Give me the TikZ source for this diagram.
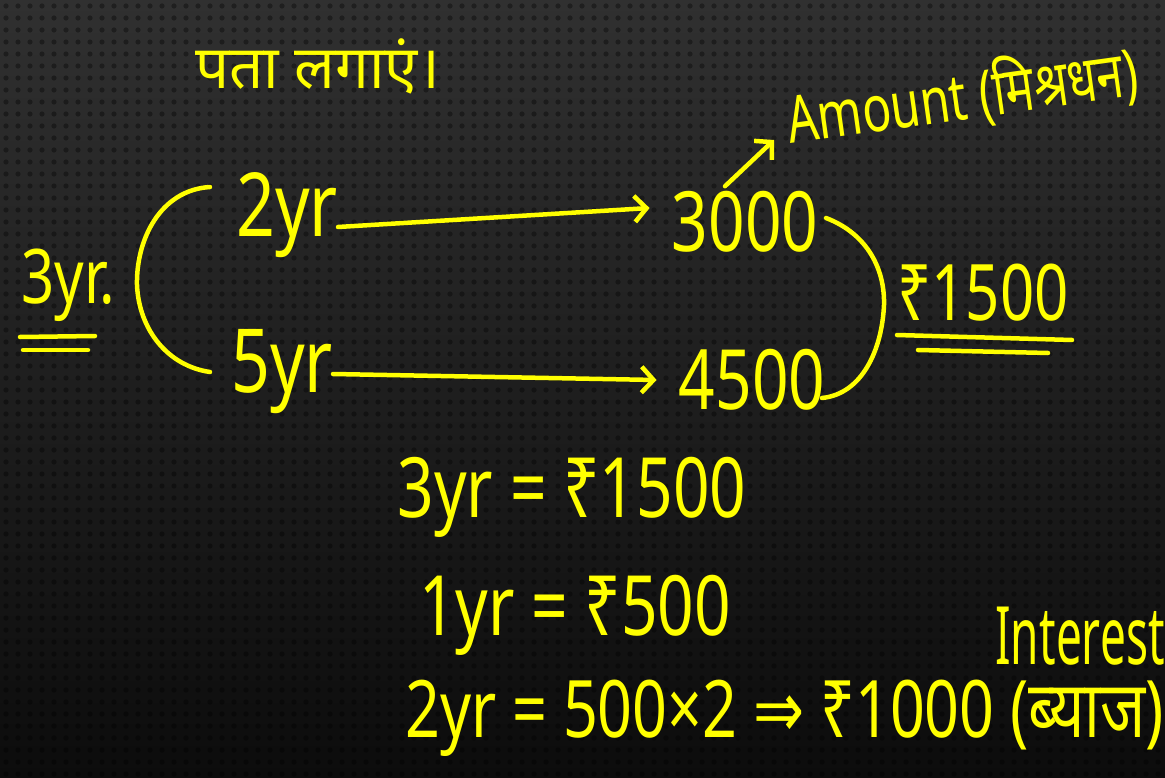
\documentclass[tikz,border=0pt]{standalone}
\usepackage{fontspec}
\usepackage{graphicx}
\setmainfont{Noto Sans}
\newfontfamily\deva[Script=Devanagari]{Noto Sans}
\newfontfamily\dejavu{DejaVu Sans}
\usetikzlibrary{arrows.meta}
\definecolor{ink}{HTML}{FFFF00}
\definecolor{bgtop}{HTML}{303030}
\definecolor{bgbot}{HTML}{0C0C0C}
\newcommand\hw[2][1.3]{\scalebox{1}[#1]{#2}}
\tikzset{
  txt/.style={text=ink, inner sep=0pt, anchor=center},
  pen/.style={draw=ink, line width=4.5pt, line cap=round, line join=round},
  arr/.style={pen, -{Straight Barb[length=12pt,width=26pt,line width=4.5pt]}},
  big/.style={font=\fontsize{64}{70}\selectfont},
}
\begin{document}
\begin{tikzpicture}[x=1pt,y=-1pt]
\useasboundingbox (0,0) rectangle (1165,778);
\clip (0,0) rectangle (1165,778);
\shade[top color=bgtop,bottom color=bgbot] (0,0) rectangle (1165,778);
\foreach \i in {0,...,97}{\foreach \j in {0,...,65}{
  \fill[black,opacity=0.35] (\i*12+6,\j*12+6) circle (2.6pt);}}

% title
\node[txt,font=\fontsize{60}{66}\selectfont\deva] (title) at (318,66) {पता लगाएं।};

% left part
\node[txt,font=\fontsize{58}{64}\selectfont] (y3) at (68,285) {\hw{3yr.}};
\draw[pen] (20,337) -- (95,336);
\draw[pen] (23,350) -- (88,350);

\node[txt,font=\fontsize{68}{74}\selectfont] (y2) at (287,215) {\hw{2yr}};
\node[txt,font=\fontsize{68}{74}\selectfont] (y5) at (282,372) {\hw{5yr}};

\coordinate (bt) at (210,187);
\coordinate (bb) at (210,372);
\draw[pen] (bt) .. controls (160,190) and (136,240) .. (137,285)
                .. controls (139,330) and (168,366) .. (bb);

% amounts
\node[txt,big] (a3000) at (745,222) {\hw{3000}};
\node[txt,big] (a4500) at (752,380) {\hw{4500}};

\draw[arr] ([yshift=-12pt]y2.east) -- ([shift={(-22,-14)}]a3000.west);
\draw[arr] ([yshift=-2pt]y5.east) -- ([shift={(-22,0)}]a4500.west);

% amount label
\node[txt,font=\fontsize{48}{54}\selectfont,anchor=base west,rotate=8] (amt) at (790,144) {\hw[1.35]{Amount (\deva मिश्रधन)}};
\draw[arr] ([shift={(-20,-5)}]a3000.north) -- ([shift={(-16,-4)}]amt.base west);

% right brace
\coordinate (rt) at (826,218);
\coordinate (rb) at (822,398);
\draw[pen] (rt) .. controls (868,234) and (885,270) .. (884,305)
                .. controls (882,350) and (862,394) .. (rb);

\node[txt,font=\fontsize{60}{66}\selectfont] (d1500) at (983,293) {\hw{₹1500}};
\draw[pen] (897,335) -- (1072,340);
\draw[pen] (918,350) -- (1048,353);

% calculations
\node[txt,big] (c1) at (572,497) {\hw{3yr = ₹1500}};
\node[txt,big] (c2) at (575,615) {\hw{1yr = ₹500}};
\node[txt,font=\fontsize{61}{68}\selectfont,anchor=west] (c3) at (405,718)
  {\hw{2yr = 500×2 {\dejavu ⇒} ₹1000 ({\deva ब्याज})}};
\node[txt,font=\fontsize{46}{52}\selectfont] (int) at (1080,636) {\hw[1.75]{Interest}};
\end{tikzpicture}
\end{document}
